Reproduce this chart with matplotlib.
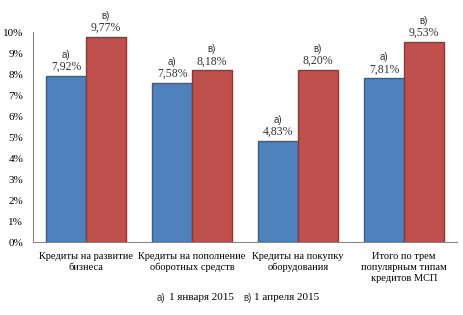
import matplotlib
matplotlib.use("Agg")
import matplotlib.pyplot as plt
import numpy as np

categories = ["Кредиты на развитие\nбизнеса", "Кредиты на пополнение\nоборотных средств",
              "Кредиты на покупку\nоборудования", "Итого по трем\nпопулярным типам\nкредитов МСП"]
jan = [7.92, 7.58, 4.83, 7.81]
apr = [9.77, 8.18, 8.20, 9.53]
jan_labels = ["7,92%", "7,58%", "4,83%", "7,81%"]
apr_labels = ["9,77%", "8,18%", "8,20%", "9,53%"]
yticks = [0, 1, 2, 3, 4, 5, 6, 7, 8, 9, 10]

serif = "Liberation Serif"
sans = "Liberation Sans"

fig = plt.figure(figsize=(4.64, 3.15), dpi=100)
ax = fig.add_axes([0.0711, 0.2317, 0.9139, 0.6663])

x = np.arange(len(categories))
w = 0.373
b1 = ax.bar(x - w / 2, jan, w, color="#4F81BD", edgecolor="#385D8A", linewidth=1.0)
b2 = ax.bar(x + w / 2, apr, w, color="#C0504D", edgecolor="#8C3836", linewidth=1.0)

for bars, vals, labs, letter in [(b1, jan, jan_labels, "а)"), (b2, apr, apr_labels, "в)")]:
    for r, v, lab in zip(bars, vals, labs):
        cx = r.get_x() + r.get_width() / 2
        ax.annotate(lab, (cx, v), xytext=(0, 2), textcoords="offset points",
                    ha="center", va="bottom", fontsize=8.5, family=serif, color="#333333")
        ax.annotate(letter, (cx, v), xytext=(0, 11.5), textcoords="offset points",
                    ha="center", va="bottom", fontsize=7, family=sans, color="#333333")

ax.set_xlim(-0.5, 3.5)
ax.set_ylim(0, 10)
ax.set_yticks(yticks)
ax.set_yticklabels([f"{t}%" for t in yticks], family=serif, fontsize=8)
ax.set_xticks(x)
ax.set_xticklabels(categories, family=serif, fontsize=7.5, linespacing=1.3, va="top")
ax.tick_params(axis="both", length=0, pad=7)
ax.tick_params(axis="y", pad=7)
for s in ["top", "right"]:
    ax.spines[s].set_visible(False)
for s in ["left", "bottom"]:
    ax.spines[s].set_color("#888888")
    ax.spines[s].set_linewidth(0.8)

# legend (text only)
ly = 1 - 298 / 315
fig.text(157 / 464, ly, "а)", family=sans, fontsize=7, va="center", ha="left", color="#333333")
fig.text(169 / 464, ly, "1 января 2015", family=serif, fontsize=8, va="center", ha="left")
fig.text(243 / 464, ly, "в)", family=sans, fontsize=7, va="center", ha="left", color="#333333")
fig.text(254 / 464, ly, "1 апреля 2015", family=serif, fontsize=8, va="center", ha="left")

fig.savefig("out.png", dpi=100)
